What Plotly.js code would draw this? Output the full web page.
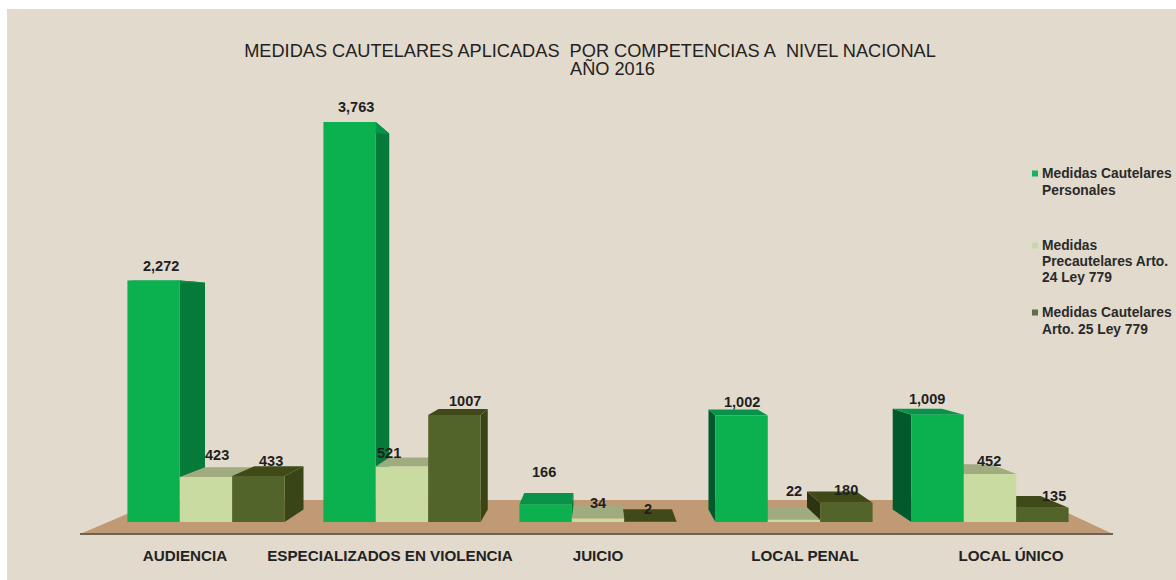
<!DOCTYPE html>
<html>
<head>
<meta charset="utf-8">
<script src="https://cdn.plot.ly/plotly-3.0.1.min.js"></script>
<style>html,body{margin:0;padding:0;background:#fff;overflow:hidden}#chart{width:1176px;height:580px}</style>
</head>
<body>
<div id="chart"></div>
<script>
// ---- data ----
const categories = ['AUDIENCIA', 'ESPECIALIZADOS EN VIOLENCIA', 'JUICIO', 'LOCAL PENAL', 'LOCAL ÚNICO'];
const seriesNames = ['Medidas Cautelares Personales', 'Medidas Precautelares Arto. 24 Ley 779', 'Medidas Cautelares Arto. 25 Ley 779'];
const personales = [2272, 3763, 166, 1002, 1009];
const precautelares = [423, 521, 34, 22, 452];
const cautelares = [433, 1007, 2, 180, 135];
const labelsPersonales = ['2,272', '3,763', '166', '1,002', '1,009'];
const labelsPrecautelares = ['423', '521', '34', '22', '452'];
const labelsCautelares = ['433', '1007', '2', '180', '135'];
const titleLine1 = 'MEDIDAS CAUTELARES APLICADAS\u00a0 POR COMPETENCIAS A\u00a0 NIVEL NACIONAL';
const titleLine2 = 'AÑO 2016';
const legendLines = ['Medidas Cautelares', 'Personales', 'Medidas', 'Precautelares Arto.', '24 Ley 779', 'Medidas Cautelares', 'Arto. 25 Ley 779'];

// ---- layout constants (pixels of the picture) ----
const W = 1176, H = 580, L = 7, T = 9;
const X0PX = 206, XUNIT = 196, Y0PX = 522, YUNIT = 0.1063;
const xRange = [(L - X0PX) / XUNIT, (W - X0PX) / XUNIT];
const yRange = [(Y0PX - H) / YUNIT, (Y0PX - T) / YUNIT];
const toX = p => (p - X0PX) / XUNIT;
const toY = p => (Y0PX - p) / YUNIT;
const pfx = p => (p - L) / (W - L);
const pfy = p => (H - p) / (H - T);

const BAR = 52.4 / XUNIT;
const VX = 2.01, VY = toY(314), K = 0.06;       // vanishing point of the pseudo-3D depth
const backX = x => x + K * (VX - x);
const backY = y => y + K * (VY - y);

const seriesValues = [personales, precautelares, cautelares];
const seriesLabels = [labelsPersonales, labelsPrecautelares, labelsCautelares];
const frontColors = ['#0bb14f', '#c9dba0', '#526429'];
const topColors = ['#07934a', '#a0ab80', '#3f4a18'];
const rightColors = ['#067a38', '#8f9a70', '#3a4517'];
const leftColors = ['#005a2b', '#8f9a70', '#2c3510'];
const legendSwatch = ['#15b35c', '#c7d7a8', '#5f7142'];

// label offsets from top centre of each front face, px
const labelDx = [[7, 6, -2, 0, -11], [11, -13, 0, 0, -1], [13, 11, -2, 0, 12]];
const labelDy = [[14, 15, 32, 13, 16], [22, 14, 15, 29, 13], [15, 14, 13, 13, 12]];
const tickOffsets = [-21, -12, 0, 11, 21];

// ---- depth faces, painted from farthest to nearest the vanishing point ----
const bars = [];
seriesValues.forEach((vals, s) => vals.forEach((v, g) => {
  const c = g + (s - 1) * BAR;
  bars.push({s, v, x0: c - BAR / 2, x1: c + BAR / 2, c});
}));
bars.sort((a, b) => Math.abs(b.c - VX) - Math.abs(a.c - VX));

const face = (xs, ys, color) => ({
  type: 'scatter', mode: 'lines', x: xs.concat(xs[0]), y: ys.concat(ys[0]),
  fill: 'toself', fillcolor: color, line: {width: 0, color: color},
  hoverinfo: 'skip', showlegend: false, xaxis: 'x', yaxis: 'y'
});
const faces = [];
bars.forEach(b => {
  if (b.x1 < VX) faces.push(face([b.x1, b.x1, backX(b.x1), backX(b.x1)], [0, b.v, backY(b.v), backY(0)], rightColors[b.s]));
  if (b.x0 > VX) faces.push(face([b.x0, b.x0, backX(b.x0), backX(b.x0)], [0, b.v, backY(b.v), backY(0)], leftColors[b.s]));
  faces.push(face([b.x0, b.x1, backX(b.x1), backX(b.x0)], [b.v, b.v, backY(b.v), backY(b.v)], topColors[b.s]));
});

// ---- front faces: real bars on an overlaid pair of axes ----
const xIdx = categories.map((_, i) => i);
const fronts = seriesValues.map((vals, s) => ({
  type: 'bar', name: seriesNames[s], x: xIdx, y: vals,
  marker: {color: frontColors[s]}, xaxis: 'x2', yaxis: 'y2', showlegend: false,
  customdata: categories, hovertemplate: '%{customdata}: %{y}<extra>' + seriesNames[s] + '</extra>'
}));

// ---- data labels ----
const annotations = [];
seriesValues.forEach((vals, s) => vals.forEach((v, g) => {
  annotations.push({
    xref: 'x', yref: 'y', x: g + (s - 1) * BAR, y: v, text: seriesLabels[s][g],
    xshift: labelDx[s][g], yshift: labelDy[s][g], yanchor: 'middle', xanchor: 'center', showarrow: false,
    font: {family: 'Liberation Sans', size: 14.5, weight: 700, color: '#1f1f1f'}
  });
}));

// ---- second title line ----
annotations.push({
  xref: 'paper', yref: 'paper', x: pfx(612), y: pfy(69), xanchor: 'center', yanchor: 'middle', showarrow: false,
  text: titleLine2, font: {family: 'Liberation Sans', size: 18.2, color: '#222'}
});

// ---- legend (hand placed, uneven gaps as in the source) ----
const legendLineY = [173, 190, 245, 261, 277, 312, 329], swatchY = [173.5, 245.5, 312.5];
legendLines.forEach((t, i) => annotations.push({
  xref: 'paper', yref: 'paper', x: pfx(1040), y: pfy(legendLineY[i]), xanchor: 'left', yanchor: 'middle',
  align: 'left', text: t, showarrow: false,
  font: {family: 'Liberation Sans', size: 13.8, weight: 700, color: '#2a2a2a'}
}));

const shapes = [
  {type: 'path', layer: 'below', xref: 'x', yref: 'y', line: {width: 0}, fillcolor: '#c09a75',
   path: `M${toX(80)},${toY(534)} L${toX(1113)},${toY(534)} L${toX(1040)},${toY(500)} L${toX(160)},${toY(500)} Z`},
  {type: 'line', layer: 'below', xref: 'x', yref: 'y', x0: toX(80), x1: toX(1113), y0: toY(534), y1: toY(534),
   line: {color: '#6d6257', width: 2}}
];
legendSwatch.forEach((c, i) => shapes.push({
  type: 'rect', xref: 'paper', yref: 'paper', line: {width: 0}, fillcolor: c,
  x0: pfx(1032), x1: pfx(1038), y0: pfy(swatchY[i] - 3), y1: pfy(swatchY[i] + 3)
}));

const layout = {
  width: W, height: H, margin: {l: L, r: 0, t: T, b: 0, pad: 0},
  paper_bgcolor: '#ffffff', plot_bgcolor: '#e2dacc',
  font: {family: 'Liberation Sans', color: '#222'},
  title: {text: titleLine1, x: 590 / W, xref: 'container', xanchor: 'center', y: 1 - 44 / H, yref: 'container', yanchor: 'top',
          font: {family: 'Liberation Sans', size: 18.2, color: '#222'}},
  showlegend: false,
  barmode: 'group', bargap: 1 - 3 * BAR, bargroupgap: 0,
  xaxis: {range: xRange, anchor: 'free', position: pfy(545), tickmode: 'array',
          tickvals: tickOffsets.map((o, i) => i + o / XUNIT), ticktext: categories, ticks: '',
          tickfont: {family: 'Liberation Sans', size: 15.2, weight: 700, color: '#222'}, tickangle: 0,
          showgrid: false, zeroline: false, showline: false, fixedrange: true},
  yaxis: {range: yRange, visible: false, showgrid: false, zeroline: false, fixedrange: true},
  xaxis2: {range: xRange, overlaying: 'x', anchor: 'y2', visible: false, fixedrange: true},
  yaxis2: {range: yRange, overlaying: 'y', anchor: 'x2', visible: false, fixedrange: true},
  shapes, annotations
};
Plotly.newPlot('chart', faces.concat(fronts), layout, {displayModeBar: false, responsive: false});
</script>
</body>
</html>
